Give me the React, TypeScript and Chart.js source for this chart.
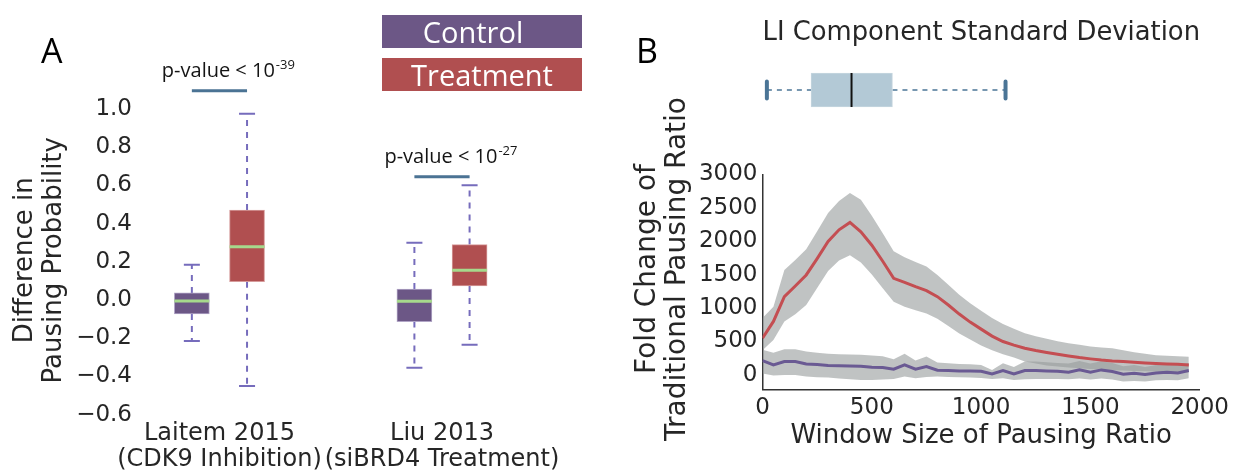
import React, { useEffect, useRef } from 'react';
import { Chart, registerables } from 'chart.js';

Chart.register(...registerables);

const SANS = '"DejaVu Sans", sans-serif';
const LABEL_FONT = '"Open Sans", sans-serif';
const INK = '#262626';

// ---------- Panel A: change in pausing probability ----------
const studies = ['Laitem 2015', 'Liu 2013'];
const studyNotes = ['(CDK9 Inhibition)', '(siBRD4 Treatment)'];
const studyPositions = [1, 2];
const groupOffset = 0.124;
// [lower whisker, Q1, median, Q3, upper whisker]
const controlSummary = [
  [-0.215, -0.073, -0.005, 0.037, 0.185],
  [-0.355, -0.113, -0.007, 0.057, 0.3],
];
const treatmentSummary = [
  [-0.45, 0.096, 0.279, 0.471, 0.975],
  [-0.235, 0.073, 0.155, 0.29, 0.6],
];
const pValueExponents = [-39, -27];
const significanceLevels = [1.095, 0.645];
const probabilityTicks = [-0.6, -0.4, -0.2, 0, 0.2, 0.4, 0.6, 0.8, 1.0];

const CONTROL = '#6c5786';
const TREATMENT = '#b04f50';
const WHISKER = '#766cbc';
const MEDIAN = '#a6d98c';
const SIG = '#4b7394';

// ---------- Panel B: LI component spread ----------
const spreadSummary = [20, 222, 407, 594, 1111]; // min, Q1, median, Q3, max

// ---------- Panel B: fold change vs window size ----------
const windowSizes = [
  0, 50, 100, 150, 200, 250, 300, 350, 400, 450,
  500, 550, 600, 650, 700, 750, 800, 850, 900, 950,
  1000, 1050, 1100, 1150, 1200, 1250, 1300, 1350, 1400, 1450,
  1500, 1550, 1600, 1650, 1700, 1750, 1800, 1850, 1900, 1950,
];
const treatmentFold = [
  550, 800, 1170, 1330, 1495, 1740, 1995, 2170, 2280, 2140,
  1940, 1700, 1445, 1385, 1320, 1260, 1170, 1045, 910, 790,
  685, 580, 500, 445, 400, 365, 335, 308, 284, 260,
  240, 222, 209, 200, 190, 180, 172, 165, 158, 150,
];
const treatmentUpper = [
  850, 1020, 1570, 1720, 1880, 2150, 2420, 2600, 2720, 2620,
  2380, 2118, 1849, 1760, 1690, 1620, 1495, 1350, 1200, 1070,
  960, 850, 760, 690, 625, 580, 540, 505, 475, 450,
  425, 410, 400, 370, 340, 315, 295, 285, 278, 272,
];
const treatmentLower = [
  370, 523, 797, 907, 1046, 1300, 1555, 1710, 1790, 1680,
  1500, 1296, 1096, 1021, 967, 917, 840, 730, 620, 530,
  440, 370, 310, 260, 200, 170, 140, 125, 110, 100,
  90, 80, 70, 65, 60, 55, 50, 45, 40, 35,
];
const controlFold = [
  215, 150, 200, 200, 165, 155, 140, 138, 135, 130,
  115, 110, 85, 150, 85, 125, 70, 65, 60, 60,
  55, 15, 65, 15, 65, 65, 60, 55, 40, 75,
  40, 75, 50, 10, 25, 5, 30, 40, 30, 65,
];
const controlUpper = [
  375, 330, 385, 385, 350, 330, 315, 310, 305, 300,
  290, 280, 235, 315, 215, 275, 185, 175, 165, 160,
  150, 75, 175, 120, 200, 200, 190, 180, 170, 210,
  170, 205, 180, 130, 150, 120, 150, 160, 150, 180,
];
const controlLower = [
  20, -10, 0, 0, -25, -35, -40, -55, -65, -75,
  -75, -70, -60, -25, -50, -30, -25, -30, -35, -40,
  -45, -60, -50, -75, -65, -60, -60, -60, -65, -55,
  -70, -55, -70, -100, -90, -100, -80, -75, -80, -50,
];
const foldTicks = [0, 500, 1000, 1500, 2000, 2500, 3000];
const windowTicks = [0, 500, 1000, 1500, 2000];
const foldTitle = ['Fold Change of', 'Traditional Pausing Ratio'];

const BAND = 'rgba(150, 155, 155, 0.6)';
const RED_LINE = '#c44e52';
const PURPLE_LINE = '#6a5a93';
const STEEL = '#4b7596';

type Pt = { x: number; y: number | null };

// Turns [x1, y1, x2, y2] pieces into one broken polyline.
function segments(list: number[][]): Pt[] {
  const pts: Pt[] = [];
  for (const [x1, y1, x2, y2] of list) {
    pts.push({ x: x1, y: y1 }, { x: x2, y: y2 }, { x: x2, y: null });
  }
  return pts;
}

function fmtProb(v: number) {
  const a = Math.abs(v).toFixed(1);
  return v < -1e-9 ? '\u2212' + a : a;
}

function series(values: number[]) {
  return windowSizes.map((w, i) => ({ x: w, y: values[i] }));
}

function buildPanelA(): any {
  const boxHalf = 0.0786;
  const capHalf = 0.036;
  const groups = studyPositions.flatMap((p, i) => [
    { x: p - groupOffset, s: controlSummary[i], color: CONTROL, edge: '#b1a5c6' },
    { x: p + groupOffset, s: treatmentSummary[i], color: TREATMENT, edge: '#d69b9b' },
  ]);

  const pValuePlugin = {
    id: 'pValueText',
    afterDatasetsDraw(chart: any) {
      const { ctx, scales } = chart;
      studyPositions.forEach((p, i) => {
        const left = scales.x.getPixelForValue(p - groupOffset) - 30;
        const base = scales.y.getPixelForValue(significanceLevels[i]) - 14;
        ctx.save();
        ctx.fillStyle = '#141414';
        ctx.textBaseline = 'alphabetic';
        ctx.textAlign = 'left';
        ctx.font = `20px ${LABEL_FONT}`;
        const main = 'p-value < 10';
        ctx.fillText(main, left, base);
        const w = ctx.measureText(main).width;
        ctx.font = `13px ${LABEL_FONT}`;
        ctx.fillText(String(pValueExponents[i]), left + w + 1, base - 8);
        ctx.restore();
      });
    },
  };

  return {
    type: 'bar',
    data: {
      datasets: [
        {
          type: 'line',
          data: segments(groups.map((g) => [g.x - boxHalf, g.s[2], g.x + boxHalf, g.s[2]])),
          borderColor: MEDIAN,
          borderWidth: 3,
          pointRadius: 0,
          order: 0,
        },
        {
          type: 'bar',
          data: groups.map((g) => ({ x: g.x, y: [g.s[1], g.s[3]] })),
          backgroundColor: groups.map((g) => g.color),
          borderColor: groups.map((g) => g.edge),
          borderWidth: 1,
          borderSkipped: false,
          barThickness: 35,
          order: 1,
        },
        {
          type: 'line',
          data: segments(
            groups.flatMap((g) => [
              [g.x, g.s[3], g.x, g.s[4]],
              [g.x, g.s[1], g.x, g.s[0]],
            ])
          ),
          borderColor: WHISKER,
          borderWidth: 2,
          borderDash: [6, 6],
          pointRadius: 0,
          order: 2,
        },
        {
          type: 'line',
          data: segments(
            groups.flatMap((g) => [
              [g.x - capHalf, g.s[4], g.x + capHalf, g.s[4]],
              [g.x - capHalf, g.s[0], g.x + capHalf, g.s[0]],
            ])
          ),
          borderColor: WHISKER,
          borderWidth: 2,
          pointRadius: 0,
          order: 2,
        },
        {
          type: 'line',
          data: segments(
            studyPositions.map((p, i) => [p - groupOffset, significanceLevels[i], p + groupOffset, significanceLevels[i]])
          ),
          borderColor: SIG,
          borderWidth: 3,
          pointRadius: 0,
          clip: false,
          order: 2,
        },
      ],
    },
    options: {
      responsive: false,
      animation: false,
      layout: { padding: { top: 104, right: 20, bottom: 0, left: 0 } },
      plugins: { legend: { display: false }, tooltip: { enabled: false } },
      scales: {
        x: {
          type: 'linear',
          min: 0.643,
          max: 2.71,
          offset: false,
          grid: { display: false, drawTicks: false },
          border: { display: false },
          afterBuildTicks: (s: any) => {
            s.ticks = studyPositions.map((v) => ({ value: v }));
          },
          afterFit: (s: any) => {
            s.height = 56.5;
          },
          ticks: {
            autoSkip: false,
            maxRotation: 0,
            padding: 4,
            color: INK,
            font: { family: SANS, size: 24, lineHeight: 1.1 },
            callback: (v: number) => {
              const i = studyPositions.indexOf(v);
              return i >= 0 ? [studies[i], studyNotes[i]] : '';
            },
          },
        },
        y: {
          type: 'linear',
          min: -0.61,
          max: 1.026,
          grid: { display: false, drawTicks: false },
          border: { display: false },
          afterBuildTicks: (s: any) => {
            s.ticks = probabilityTicks.map((v) => ({ value: v }));
          },
          afterFit: (s: any) => {
            s.width = 140;
          },
          ticks: {
            autoSkip: false,
            padding: 8,
            color: INK,
            font: { family: SANS, size: 23 },
            callback: (v: number) => fmtProb(v),
          },
          title: {
            display: true,
            text: ['Difference in', 'Pausing Probability'],
            color: INK,
            font: { family: SANS, size: 26, lineHeight: 1.12 },
            padding: { top: 10.4, bottom: 0 },
          },
        },
      },
    },
    plugins: [pValuePlugin],
  };
}

function buildSpreadBox(): any {
  const [lo, q1, med, q3, hi] = spreadSummary;
  return {
    type: 'bar',
    data: {
      datasets: [
        {
          type: 'line',
          data: segments([[med, 0.5, med, 1.5]]),
          borderColor: '#111111',
          borderWidth: 2,
          pointRadius: 0,
          order: 0,
        },
        {
          type: 'bar',
          indexAxis: 'y',
          data: [{ x: [q1, q3], y: 1 }],
          backgroundColor: '#b3c9d6',
          borderColor: '#c6d6df',
          borderWidth: 1,
          borderSkipped: false,
          barThickness: 34,
          order: 1,
        },
        {
          type: 'line',
          data: segments([
            [lo, 1, q1, 1],
            [q3, 1, hi, 1],
          ]),
          borderColor: STEEL,
          borderWidth: 1.5,
          borderDash: [5, 5],
          pointRadius: 0,
          order: 2,
        },
        {
          type: 'line',
          data: segments([
            [lo, 0.75, lo, 1.25],
            [hi, 0.75, hi, 1.25],
          ]),
          borderColor: STEEL,
          borderWidth: 4,
          borderCapStyle: 'round',
          pointRadius: 0,
          order: 2,
        },
      ],
    },
    options: {
      responsive: false,
      animation: false,
      layout: { padding: { top: 0, right: 34, bottom: 16, left: 142.5 } },
      plugins: {
        legend: { display: false },
        tooltip: { enabled: false },
        title: {
          display: true,
          text: 'LI Component Standard Deviation',
          color: INK,
          font: { family: SANS, size: 26, weight: 'normal', lineHeight: 1.2 },
          padding: { top: 17.4, bottom: 7.4 },
        },
      },
      scales: {
        x: { type: 'linear', min: 0, max: 2000, display: false, offset: false },
        y: { type: 'linear', min: 0, max: 2, display: false, offset: false },
      },
    },
  };
}

function buildPanelB(): any {
  const band = { borderWidth: 0, pointRadius: 0, backgroundColor: BAND, order: 2 };

  // Two-line vertical axis title, centred a little above the plot area's middle.
  const sideTitle = {
    id: 'foldTitle',
    afterDraw(chart: any) {
      const { ctx } = chart;
      ctx.save();
      ctx.translate(27.5, 269);
      ctx.rotate(-Math.PI / 2);
      ctx.font = `28px ${SANS}`;
      ctx.fillStyle = INK;
      ctx.textAlign = 'center';
      ctx.textBaseline = 'middle';
      foldTitle.forEach((line, i) => ctx.fillText(line, 0, i * 30.5));
      ctx.restore();
    },
  };

  return {
    type: 'line',
    data: {
      datasets: [
        { ...band, data: series(treatmentUpper), fill: '+1' },
        { ...band, data: series(treatmentLower), fill: false },
        { ...band, data: series(controlUpper), fill: '+1' },
        { ...band, data: series(controlLower), fill: false },
        {
          label: 'Treatment',
          data: series(treatmentFold),
          borderColor: RED_LINE,
          borderWidth: 3,
          pointRadius: 0,
          fill: false,
          order: 1,
        },
        {
          label: 'Control',
          data: series(controlFold),
          borderColor: PURPLE_LINE,
          borderWidth: 3,
          pointRadius: 0,
          fill: false,
          order: 0,
        },
      ],
    },
    options: {
      responsive: false,
      animation: false,
      layout: { padding: { top: 174.3, right: 34, bottom: 0, left: 0 } },
      plugins: { legend: { display: false }, tooltip: { enabled: false } },
      scales: {
        x: {
          type: 'linear',
          min: 0,
          max: 2000,
          grid: { display: false, drawTicks: false },
          border: { display: true, color: '#333333', width: 1.5 },
          afterBuildTicks: (s: any) => {
            s.ticks = windowTicks.map((v) => ({ value: v }));
          },
          afterFit: (s: any) => {
            s.height = 83.7;
          },
          ticks: {
            autoSkip: false,
            maxRotation: 0,
            padding: 5,
            color: INK,
            font: { family: SANS, size: 23 },
            callback: (v: number) => String(v),
          },
          title: {
            display: true,
            text: 'Window Size of Pausing Ratio',
            color: INK,
            font: { family: SANS, size: 26, lineHeight: 1.2 },
            padding: { top: 0, bottom: 20.7 },
          },
        },
        y: {
          type: 'linear',
          min: -215,
          max: 3000,
          grid: { display: false, drawTicks: false },
          border: { display: true, color: '#333333', width: 1.5 },
          afterBuildTicks: (s: any) => {
            s.ticks = foldTicks.map((v) => ({ value: v }));
          },
          afterFit: (s: any) => {
            s.width = 142.5;
          },
          ticks: {
            autoSkip: false,
            padding: 5,
            color: INK,
            font: { family: SANS, size: 23 },
            callback: (v: number) => String(v),
          },
        },
      },
    },
    plugins: [sideTitle],
  };
}

const legendBlock: React.CSSProperties = {
  position: 'absolute',
  left: 382,
  width: 200,
  height: 33,
  color: '#ffffff',
  fontFamily: LABEL_FONT,
  fontSize: 29,
  lineHeight: '33px',
  textAlign: 'center',
  whiteSpace: 'nowrap',
};

const panelLetter: React.CSSProperties = {
  position: 'absolute',
  top: 33,
  fontFamily: LABEL_FONT,
  fontSize: 34,
  lineHeight: '34px',
  color: '#000000',
};

export default function App() {
  const aRef = useRef<HTMLCanvasElement>(null);
  const topRef = useRef<HTMLCanvasElement>(null);
  const bRef = useRef<HTMLCanvasElement>(null);

  useEffect(() => {
    const charts = [
      new Chart(aRef.current as HTMLCanvasElement, buildPanelA()),
      new Chart(topRef.current as HTMLCanvasElement, buildSpreadBox()),
      new Chart(bRef.current as HTMLCanvasElement, buildPanelB()),
    ];
    return () => charts.forEach((c) => c.destroy());
  }, []);

  return (
    <div
      style={{
        position: 'absolute',
        left: 0,
        top: 0,
        width: 1234,
        height: 473,
        background: '#ffffff',
        overflow: 'hidden',
      }}
    >
      <canvas
        ref={aRef}
        width={620}
        height={473}
        style={{ position: 'absolute', left: 0, top: 0, width: 620, height: 473 }}
      />
      <canvas
        ref={bRef}
        width={614}
        height={473}
        style={{ position: 'absolute', left: 620, top: 0, width: 614, height: 473 }}
      />
      <canvas
        ref={topRef}
        width={614}
        height={140}
        style={{ position: 'absolute', left: 620, top: 0, width: 614, height: 140 }}
      />
      <div style={{ ...legendBlock, top: 15, background: CONTROL, paddingRight: 18, width: 182 }}>Control</div>
      <div style={{ ...legendBlock, top: 58, background: TREATMENT }}>Treatment</div>
      <div style={{ ...panelLetter, left: 41 }}>A</div>
      <div style={{ ...panelLetter, left: 636 }}>B</div>
    </div>
  );
}
